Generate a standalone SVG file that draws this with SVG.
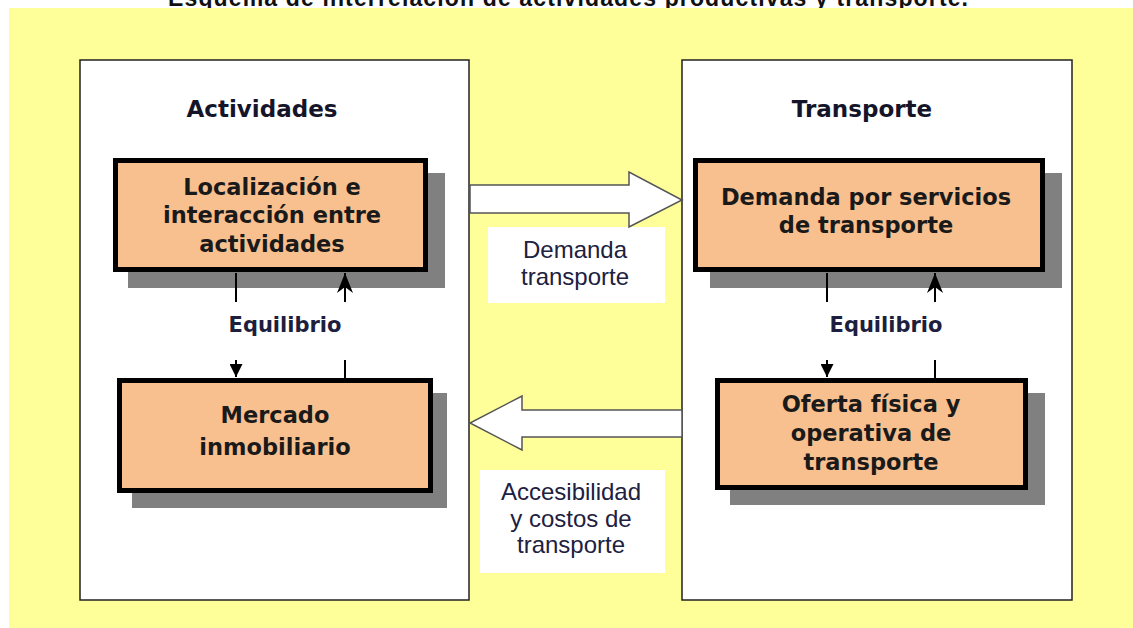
<svg xmlns="http://www.w3.org/2000/svg" width="1133" height="628" viewBox="0 0 1133 628">
<defs>
<style>
.panel{fill:#ffffff;stroke:#222;stroke-width:1.5}
.shadow{fill:#808080}
.box{fill:#F9C08F;stroke:#000;stroke-width:5}
.bt{font-family:"DejaVu Sans",Verdana,sans-serif;font-weight:bold;font-size:22.5px;fill:#1a1a1a;text-anchor:middle}
.hd{font-family:"DejaVu Sans",Verdana,sans-serif;font-weight:bold;font-size:23px;fill:#15152a;text-anchor:middle}
.eq{font-family:"DejaVu Sans",Verdana,sans-serif;font-weight:bold;font-size:21px;fill:#1e1e3e;text-anchor:middle}
.lb{font-family:"Liberation Sans",Arial,sans-serif;font-size:24px;fill:#202040;text-anchor:middle}
.big{fill:#ffffff;stroke:#555;stroke-width:1.5;stroke-linejoin:miter}
.ln{stroke:#000;stroke-width:2;fill:none}
</style>
<marker id="tri" viewBox="0 0 10 10" refX="10" refY="5" markerWidth="17" markerHeight="13" markerUnits="userSpaceOnUse" orient="auto">
<path d="M0,0 L10,5 L0,10 Z" fill="#000"/>
</marker>
<marker id="stealth" viewBox="0 0 20 16" refX="20" refY="8" markerWidth="22" markerHeight="16" markerUnits="userSpaceOnUse" orient="auto">
<path d="M0,0 L20,8 L0,16 L6,8 Z" fill="#000"/>
</marker>
</defs>
<text x="568" y="6" font-family="Liberation Sans, Arial, sans-serif" font-weight="bold" font-size="23" text-anchor="middle" textLength="800" fill="#111">Esquema de interrelación de actividades productivas y transporte.</text>
<rect x="9" y="8" width="1124" height="620" fill="#FFFF99"/>

<g id="panel-actividades">
<rect class="panel" x="80" y="60" width="389" height="540"/>
<text class="hd" x="262" y="117">Actividades</text>
</g>
<g id="panel-transporte">
<rect class="panel" x="682" y="60" width="390" height="540"/>
<text class="hd" x="862" y="117">Transporte</text>
</g>

<g id="label-demanda">
<rect x="488" y="227" width="177" height="76" fill="#ffffff"/>
<text class="lb" x="575" y="258">Demanda</text>
<text class="lb" x="575" y="285">transporte</text>
</g>
<g id="label-accesibilidad">
<rect x="480" y="470" width="185" height="103" fill="#ffffff"/>
<text class="lb" x="571" y="500">Accesibilidad</text>
<text class="lb" x="571" y="527">y costos de</text>
<text class="lb" x="571" y="553">transporte</text>
</g>

<g id="node-localizacion">
<rect class="shadow" x="128" y="173" width="317" height="115"/>
<rect class="box" x="115.5" y="160.5" width="310" height="109"/>
<text class="bt" x="272" y="195">Localización e</text>
<text class="bt" x="272" y="223">interacción entre</text>
<text class="bt" x="272" y="252">actividades</text>
</g>
<g id="node-mercado">
<rect class="shadow" x="132" y="393" width="315" height="115"/>
<rect class="box" x="119.5" y="380.5" width="311" height="110"/>
<text class="bt" x="275" y="423">Mercado</text>
<text class="bt" x="275" y="455">inmobiliario</text>
</g>
<g id="node-demanda">
<rect class="shadow" x="710" y="173" width="352" height="115"/>
<rect class="box" x="695.5" y="160.5" width="347" height="109"/>
<text class="bt" x="866" y="205">Demanda por servicios</text>
<text class="bt" x="866" y="233">de transporte</text>
</g>
<g id="node-oferta">
<rect class="shadow" x="730" y="393" width="315" height="112"/>
<rect class="box" x="717.5" y="380.5" width="308" height="107"/>
<text class="bt" x="871" y="412">Oferta física y</text>
<text class="bt" x="871" y="441">operativa de</text>
<text class="bt" x="871" y="470">transporte</text>
</g>

<g id="connectors">
<polygon class="big" points="470,185 629,185 629,172 682,200 629,227 629,213 470,213"/>
<polygon class="big" points="682,410 522,410 522,396 470,423 522,450 522,437 682,437"/>
<line class="ln" x1="236" y1="273" x2="236" y2="302"/>
<line class="ln" x1="236" y1="360" x2="236" y2="377" marker-end="url(#tri)"/>
<line class="ln" x1="345" y1="302" x2="345" y2="273" marker-end="url(#stealth)"/>
<line class="ln" x1="345" y1="360" x2="345" y2="378"/>
<line class="ln" x1="827" y1="273" x2="827" y2="302"/>
<line class="ln" x1="827" y1="360" x2="827" y2="377" marker-end="url(#tri)"/>
<line class="ln" x1="935" y1="302" x2="935" y2="273" marker-end="url(#stealth)"/>
<line class="ln" x1="935" y1="360" x2="935" y2="378"/>
<text class="eq" x="285" y="332">Equilibrio</text>
<text class="eq" x="886" y="332">Equilibrio</text>
</g>
</svg>
